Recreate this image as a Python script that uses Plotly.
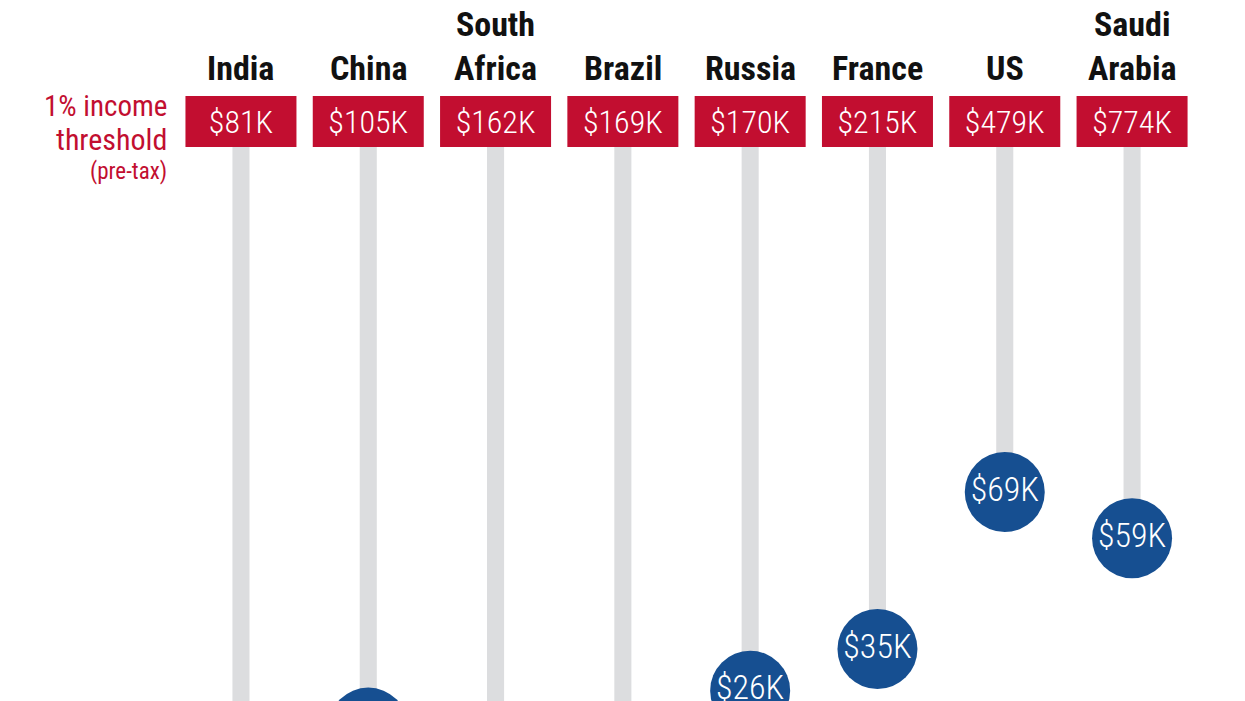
import plotly.graph_objects as go

# columns, left to right
countries = ["India", "China", "South<br>Africa", "Brazil", "Russia", "France", "US", "Saudi<br>Arabia"]
# 1% income threshold (pre-tax), shown in the red boxes
threshold_labels = ["$81K", "$105K", "$162K", "$169K", "$170K", "$215K", "$479K", "$774K"]
# average income, thousands of dollars (blue circles)
average_income_k = [8, 18, 13, 13, 26, 35, 69, 59]

RED = "#c20e30"
BLUE = "#164f91"
GREY = "#dcdddf"
FONT = "Roboto Condensed, Liberation Sans Narrow, DejaVu Sans Condensed, sans-serif"

W, H = 1245, 701
OFF = 8  # page margin around the plot div

idx = list(range(len(countries)))
box_bottom = 143.7
box_height = 11.0

fig = go.Figure()

# grey stems from box down to the circle
fig.add_trace(go.Bar(
    x=idx,
    y=[box_bottom - v for v in average_income_k],
    base=average_income_k,
    width=0.134,
    marker=dict(color=GREY, line=dict(width=0)),
    hoverinfo="skip",
))

# red threshold boxes
fig.add_trace(go.Bar(
    x=idx,
    y=[box_height] * len(idx),
    base=[box_bottom] * len(idx),
    width=0.872,
    marker=dict(color=RED, line=dict(width=0)),
    text=threshold_labels,
    textposition="inside",
    insidetextanchor="middle",
    constraintext="none",
    textangle=0,
    textfont=dict(family=FONT, size=32, color="white", weight=300),
    hoverinfo="skip",
))

# blue circles with average income
fig.add_trace(go.Scatter(
    x=idx,
    y=average_income_k,
    mode="markers+text",
    marker=dict(size=80, color=BLUE, line=dict(width=0)),
    text=["$%dK" % v for v in average_income_k],
    textposition="middle center",
    textfont=dict(family=FONT, size=34, color="white", weight=300),
    cliponaxis=True,
    hoverinfo="skip",
))

# country names above the boxes
for i, name in zip(idx, countries):
    fig.add_annotation(
        x=i, y=box_bottom + box_height, xref="x", yref="y",
        text="<b>%s</b>" % name, showarrow=False,
        yanchor="bottom", yshift=6,
        font=dict(family=FONT, size=34, color="#111111"),
    )

# red side label
side = [("1% income", 106, 29), ("threshold", 139, 30), ("(pre-tax)", 171, 23)]
for txt, ypx, sz in side:
    fig.add_annotation(
        x=(169 - OFF) / W, y=1 - (ypx - OFF) / H, xref="paper", yref="paper",
        text=txt, showarrow=False, xanchor="right", yanchor="middle",
        font=dict(family=FONT, size=sz, color=RED),
    )

fig.update_layout(
    width=W, height=H,
    margin=dict(l=0, r=0, t=0, b=0),
    paper_bgcolor="white", plot_bgcolor="white",
    showlegend=False,
    barmode="overlay",
    xaxis=dict(range=[-1.830, 7.950], visible=False, fixedrange=True),
    yaxis=dict(range=[22.03, 173.77], visible=False, fixedrange=True),
)

fig.write_html("out.html")
